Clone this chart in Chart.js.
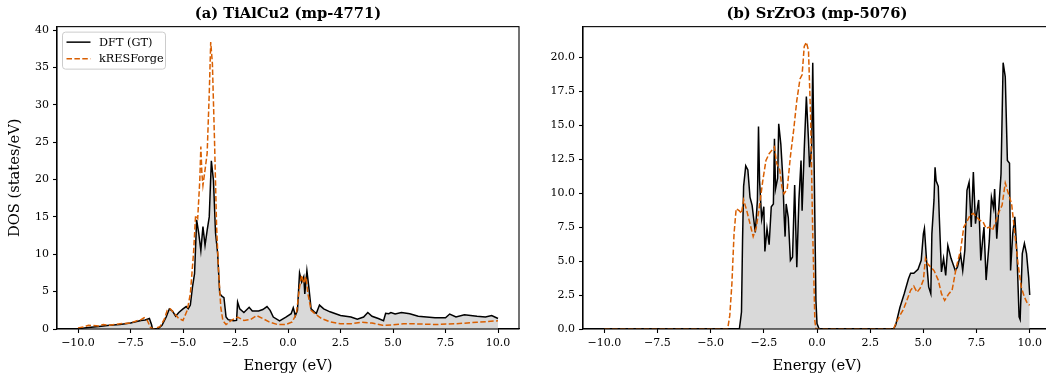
<!DOCTYPE html>
<html>
<head>
<meta charset="utf-8">
<script src="https://cdn.jsdelivr.net/npm/chart.js@4.4.1/dist/chart.umd.min.js"></script>
<style>
  body { margin: 0; background: #fff; overflow: hidden; width: 1046px; height: 375px; position: relative; }
  canvas { position: absolute; top: 0; }
</style>
</head>
<body>
<canvas id="left" width="530" height="375" style="left:0"></canvas>
<canvas id="right" width="532" height="375" style="left:530px"></canvas>
<script>
// (a) TiAlCu2 (mp-4771)
const leftDftE = [-10, -9.5, -9, -8.5, -8, -7.5, -7.2, -7.0, -6.8, -6.6, -6.5, -6.45, -6.2, -6.0, -5.8, -5.65, -5.5, -5.35, -5.2, -5.0, -4.85, -4.75, -4.65, -4.55, -4.45, -4.35, -4.25, -4.15, -4.05, -3.95, -3.85, -3.75, -3.65, -3.55, -3.45, -3.35, -3.25, -3.15, -3.05, -2.95, -2.85, -2.6, -2.45, -2.4, -2.3, -2.1, -1.85, -1.7, -1.4, -1.2, -1.0, -0.85, -0.7, -0.4, -0.1, 0.15, 0.25, 0.35, 0.45, 0.55, 0.65, 0.75, 0.8, 0.9, 1.0, 1.1, 1.25, 1.35, 1.5, 1.7, 2.0, 2.5, 3.0, 3.3, 3.6, 3.8, 4.0, 4.3, 4.55, 4.65, 4.8, 4.9, 5.1, 5.4, 5.8, 6.2, 7.0, 7.5, 7.7, 8.0, 8.4, 9.0, 9.4, 9.7, 10.0];
const leftDftDos = [0.05, 0.2, 0.35, 0.5, 0.6, 0.8, 1.0, 1.15, 1.2, 1.4, 0.6, 0.0, 0.0, 0.5, 1.6, 2.7, 2.4, 1.7, 2.2, 2.7, 3.0, 2.7, 3.2, 5.6, 7.4, 14.6, 12.8, 10.5, 13.7, 11.2, 13.2, 15.0, 22.5, 19.9, 12.8, 10.1, 4.7, 4.4, 4.2, 1.6, 1.25, 1.1, 1.15, 3.6, 2.7, 2.2, 2.9, 2.4, 2.4, 2.6, 3.0, 2.5, 1.6, 1.1, 1.6, 2.05, 2.85, 1.8, 2.5, 7.5, 6.3, 7.0, 4.7, 7.8, 5.4, 2.7, 2.3, 2.1, 3.2, 2.7, 2.3, 1.8, 1.6, 1.3, 1.6, 2.2, 1.7, 1.4, 1.1, 2.1, 2.05, 2.2, 2.0, 2.2, 2.05, 1.7, 1.5, 1.5, 2.0, 1.6, 1.9, 1.7, 1.6, 1.8, 1.4];
const leftPredE = [-10, -9.7, -9.5, -9.0, -8.8, -8.5, -8.0, -7.5, -7.2, -7.0, -6.85, -6.7, -6.55, -6.4, -6.1, -5.9, -5.75, -5.6, -5.4, -5.2, -5.0, -4.8, -4.65, -4.5, -4.4, -4.3, -4.2, -4.15, -4.1, -4.05, -3.95, -3.85, -3.75, -3.68, -3.6, -3.5, -3.4, -3.3, -3.2, -3.1, -2.95, -2.7, -2.4, -2.1, -1.8, -1.5, -1.2, -0.9, -0.5, -0.1, 0.2, 0.4, 0.55, 0.65, 0.75, 0.85, 0.95, 1.1, 1.3, 1.6, 2.0, 2.5, 3.0, 3.5, 4.0, 4.5, 5.0, 5.5, 6.0, 7.0, 8.0, 9.0, 10.0];
const leftPredDos = [0.15, 0.3, 0.5, 0.4, 0.6, 0.5, 0.7, 0.8, 1.1, 1.25, 1.5, 1.15, 0.2, 0.0, 0.3, 1.25, 2.5, 2.7, 2.05, 1.4, 1.15, 2.5, 4.7, 10.1, 15.2, 14.8, 19.9, 24.4, 20.8, 19.2, 21.3, 23.5, 31.5, 38.4, 35.5, 25.3, 13.7, 7.4, 2.9, 1.1, 0.6, 1.15, 1.6, 1.15, 1.25, 1.8, 1.4, 0.95, 0.6, 0.6, 0.95, 2.05, 5.6, 7.2, 6.1, 7.0, 4.7, 2.5, 2.0, 1.4, 0.95, 0.7, 0.7, 0.9, 0.8, 0.5, 0.55, 0.7, 0.7, 0.6, 0.7, 0.9, 1.1];

// (b) SrZrO3 (mp-5076)
const rightDftE = [-10, -3.65, -3.6, -3.55, -3.5, -3.45, -3.35, -3.25, -3.15, -3.05, -2.95, -2.9, -2.8, -2.75, -2.7, -2.6, -2.5, -2.45, -2.35, -2.25, -2.15, -2.05, -2.0, -1.95, -1.85, -1.8, -1.7, -1.6, -1.55, -1.5, -1.45, -1.35, -1.25, -1.15, -1.05, -0.95, -0.85, -0.75, -0.7, -0.6, -0.5, -0.4, -0.35, -0.25, -0.2, -0.15, -0.05, 0.0, 0.1, 3.6, 3.7, 3.9, 4.1, 4.3, 4.4, 4.55, 4.75, 4.9, 5.0, 5.05, 5.15, 5.25, 5.35, 5.4, 5.5, 5.55, 5.6, 5.7, 5.75, 5.85, 5.95, 6.05, 6.15, 6.3, 6.5, 6.6, 6.75, 6.85, 6.95, 7.05, 7.15, 7.25, 7.35, 7.45, 7.55, 7.6, 7.7, 7.8, 7.85, 7.95, 8.1, 8.2, 8.3, 8.35, 8.45, 8.55, 8.65, 8.75, 8.85, 8.95, 9.05, 9.1, 9.2, 9.3, 9.4, 9.5, 9.55, 9.65, 9.75, 9.85, 9.95, 10.0];
const rightDftDos = [0, 0, 0.6, 1.25, 6.5, 10.5, 12.0, 11.7, 9.7, 9.1, 7.75, 7.1, 9.5, 14.9, 10.9, 8.1, 9.0, 5.7, 7.4, 6.2, 9.0, 9.2, 14.0, 10.3, 11.1, 15.1, 13.6, 10.9, 8.5, 6.8, 9.2, 8.2, 5.05, 5.3, 10.6, 4.55, 9.5, 12.4, 8.7, 13.2, 17.1, 13.9, 11.9, 13.4, 19.6, 13.9, 2.1, 0.4, 0, 0, 0.3, 1.6, 2.6, 3.7, 4.1, 4.1, 4.4, 5.05, 7.0, 7.4, 5.05, 3.1, 2.6, 7.0, 9.5, 11.9, 10.9, 10.5, 8.2, 4.2, 5.2, 3.95, 6.15, 5.2, 4.3, 4.55, 5.5, 4.3, 5.8, 10.2, 10.8, 7.5, 11.55, 7.75, 9.0, 9.5, 5.05, 6.8, 7.5, 3.6, 6.5, 9.7, 8.9, 10.3, 6.65, 9.0, 11.4, 19.6, 18.55, 12.4, 12.2, 4.3, 7.0, 8.25, 5.55, 0.9, 0.7, 5.55, 6.3, 5.55, 3.8, 2.5];
const rightPredE = [-10, -4.2, -4.1, -4.0, -3.9, -3.8, -3.65, -3.55, -3.45, -3.3, -3.15, -3.0, -2.85, -2.7, -2.55, -2.4, -2.25, -2.1, -2.0, -1.9, -1.75, -1.65, -1.55, -1.4, -1.25, -1.1, -0.95, -0.8, -0.7, -0.6, -0.5, -0.4, -0.3, -0.2, -0.1, -0.05, 3.6, 3.7, 3.9, 4.05, 4.2, 4.4, 4.55, 4.7, 4.85, 5.0, 5.1, 5.2, 5.35, 5.5, 5.7, 5.85, 6.0, 6.2, 6.35, 6.55, 6.75, 6.9, 7.05, 7.2, 7.35, 7.5, 7.65, 7.8, 7.95, 8.1, 8.25, 8.4, 8.55, 8.7, 8.85, 9.0, 9.15, 9.3, 9.45, 9.6, 9.75, 9.9, 10.0];
const rightPredDos = [0, 0, 1.0, 3.35, 7.0, 8.85, 8.7, 8.5, 9.5, 8.7, 7.75, 6.8, 7.5, 9.1, 10.9, 12.4, 12.9, 13.2, 13.4, 12.2, 11.7, 10.45, 9.95, 10.3, 12.7, 14.6, 16.8, 18.4, 18.7, 20.8, 21.1, 20.5, 15.6, 7.0, 0.6, 0, 0, 0.4, 1.0, 1.4, 2.0, 2.85, 3.15, 2.7, 3.0, 3.6, 5.2, 4.8, 4.55, 4.3, 3.6, 2.6, 2.1, 2.6, 2.85, 4.55, 5.8, 7.5, 7.9, 8.4, 8.5, 8.25, 8.0, 7.9, 7.4, 7.5, 7.25, 7.9, 8.6, 9.1, 10.75, 9.95, 9.2, 7.0, 4.8, 3.1, 2.35, 1.85, 1.75];

const xTicks = [-10, -7.5, -5, -2.5, 0, 2.5, 5, 7.5, 10];
const FONT = "'DejaVu Serif', serif";
const ORANGE = "#d95f02";

function toPoints(xs, ys) {
  return xs.map((x, i) => ({ x: x, y: ys[i] }));
}

// top/right spines
const framePlugin = {
  id: "frame",
  afterDraw(chart) {
    const a = chart.chartArea, ctx = chart.ctx;
    ctx.save();
    ctx.strokeStyle = "#000";
    ctx.lineWidth = 1.1;
    ctx.strokeRect(a.left, a.top, a.right - a.left, a.bottom - a.top);
    ctx.restore();
  }
};

// matplotlib style legend in upper left of the plot
const boxLegend = {
  id: "boxLegend",
  afterDraw(chart, args, opts) {
    if (!opts.show) return;
    const a = chart.chartArea, ctx = chart.ctx;
    const x0 = a.left + 5.5, y0 = a.top + 5.5, w = 103, h = 37;
    ctx.save();
    ctx.beginPath();
    ctx.roundRect(x0, y0, w, h, 3);
    ctx.fillStyle = "rgba(255,255,255,0.8)";
    ctx.fill();
    ctx.strokeStyle = "#cccccc";
    ctx.lineWidth = 1;
    ctx.stroke();
    chart.data.datasets.forEach((ds, i) => {
      const y = y0 + 10 + i * 16.5;
      ctx.beginPath();
      ctx.setLineDash(ds.borderDash || []);
      ctx.strokeStyle = ds.borderColor;
      ctx.lineWidth = ds.borderWidth;
      ctx.moveTo(x0 + 4, y);
      ctx.lineTo(x0 + 28, y);
      ctx.stroke();
      ctx.setLineDash([]);
      ctx.fillStyle = "#000";
      ctx.font = "11.3px " + FONT;
      ctx.textBaseline = "middle";
      ctx.fillText(ds.label, x0 + 36.5, y + 0.5);
    });
    ctx.restore();
  }
};

function eachChart(canvasId, title, dftE, dftDos, predE, predDos, yMax, yStep, yWidth, yTitle, showLegend) {
  const ctx = document.getElementById(canvasId);
  new Chart(ctx, {
    type: "line",
    data: {
      datasets: [
        {
          label: "DFT (GT)",
          data: toPoints(dftE, dftDos),
          borderColor: "#000",
          borderWidth: 1.5,
          backgroundColor: "#d9d9d9",
          fill: "origin",
          pointRadius: 0,
          tension: 0,
          order: 1
        },
        {
          label: "kRESForge",
          data: toPoints(predE, predDos),
          borderColor: ORANGE,
          borderWidth: 1.5,
          borderDash: [5.5, 2.4],
          fill: false,
          pointRadius: 0,
          tension: 0,
          order: 0
        }
      ]
    },
    options: {
      responsive: false,
      animation: false,
      layout: { padding: { left: 0, right: 11, top: 0, bottom: 0 } },
      plugins: {
        legend: { display: false },
        tooltip: { enabled: false },
        boxLegend: { show: showLegend },
        title: {
          display: true,
          text: title,
          fullSize: false,
          color: "#000",
          font: { family: FONT, size: 14.7, weight: "bold", lineHeight: 1.2 },
          padding: { top: 5, bottom: 4 }
        }
      },
      scales: {
        x: {
          type: "linear",
          min: -11,
          max: 11,
          afterBuildTicks: (scale) => { scale.ticks = xTicks.map(v => ({ value: v })); },
          afterFit: (scale) => { scale.height = 46; },
          ticks: {
            color: "#000",
            font: { family: FONT, size: 11 },
            padding: 4,
            maxRotation: 0,
            callback: (v) => v.toFixed(1).replace("-", "\u2212")
          },
          grid: { drawOnChartArea: false, drawTicks: true, tickLength: 4, color: "#000", tickWidth: 1.1 },
          border: { display: true, color: "#000", width: 1.1 },
          title: {
            display: true,
            text: "Energy (eV)",
            color: "#000",
            font: { family: FONT, size: 14.7, lineHeight: 1.2 },
            padding: { top: 0, bottom: 0 }
          }
        },
        y: {
          type: "linear",
          min: 0,
          max: yMax,
          afterFit: (scale) => { scale.width = yWidth; },
          ticks: {
            stepSize: yStep,
            includeBounds: false,
            color: "#000",
            font: { family: FONT, size: 11 },
            padding: 4,
            callback: (v) => yStep % 1 === 0 ? String(v) : v.toFixed(1)
          },
          grid: { drawOnChartArea: false, drawTicks: true, tickLength: 4, color: "#000", tickWidth: 1.1 },
          border: { display: true, color: "#000", width: 1.1 },
          title: {
            display: yTitle !== "",
            text: yTitle,
            color: "#000",
            font: { family: FONT, size: 14.7, lineHeight: 1.2 },
            padding: { top: 6, bottom: 0 }
          }
        }
      }
    },
    plugins: [framePlugin, boxLegend]
  });
}

eachChart("left", "(a) TiAlCu2 (mp-4771)", leftDftE, leftDftDos, leftPredE, leftPredDos, 40.45, 5, 57, "DOS (states/eV)", true);
eachChart("right", "(b) SrZrO3 (mp-5076)", rightDftE, rightDftDos, rightPredE, rightPredDos, 22.25, 2.5, 53, "", false);
</script>
</body>
</html>
